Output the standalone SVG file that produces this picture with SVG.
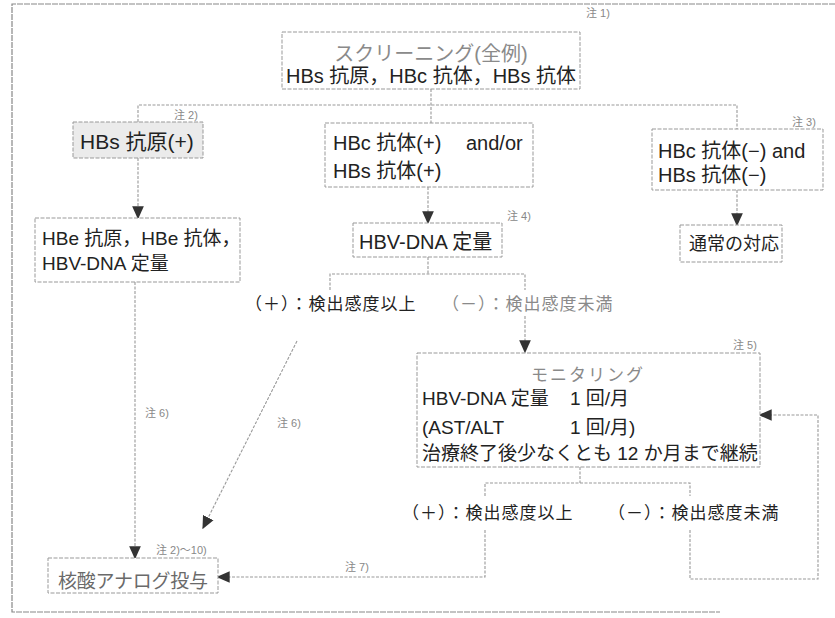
<svg xmlns="http://www.w3.org/2000/svg" width="835" height="618" viewBox="0 0 835 618">
<style>
text{font-family:'Liberation Sans','Noto Sans CJK JP',sans-serif;fill:#222}
.box{fill:#fff;stroke:#999;stroke-width:1;stroke-dasharray:4 1.5}
.shade{fill:#ebebeb}
.ln{fill:none;stroke:#999;stroke-width:1.1;stroke-dasharray:3 1.5}
.frame{fill:none;stroke:#888;stroke-width:1.2;stroke-dasharray:6 1}
.note{font-size:11px;fill:#888}
.faint{fill:#8a8a8a}
.mid{fill:#6a6a6a}
.t20{font-size:20px}
.t19{font-size:19px}
.t17{font-size:17px}
.lbl{font-size:17px;letter-spacing:1px}
</style>
<defs>
<marker id="ah" viewBox="0 0 10 10" refX="9" refY="5" markerWidth="13" markerHeight="13" markerUnits="userSpaceOnUse" orient="auto">
<path d="M0,0.5 L10,5 L0,9.5 Z" fill="#333"/>
</marker>
</defs>
<rect width="835" height="618" fill="#fff"/>
<g id="frame">
<path class="frame" d="M835,4 H12 V612 H720"/>
</g>
<g id="connectors">
<path class="ln" d="M431,89 V123"/>
<path class="ln" d="M138,122 V105 H737 V129"/>
<path class="ln" d="M138,158 V218" marker-end="url(#ah)"/>
<path class="ln" d="M428,187 V223" marker-end="url(#ah)"/>
<path class="ln" d="M737,190 V225" marker-end="url(#ah)"/>
<path class="ln" d="M330,290 V274 H525 V290"/>
<path class="ln" d="M428,257 V274"/>
<path class="ln" d="M525,316 V352" marker-end="url(#ah)"/>
<path class="ln" d="M297,341 L203,528" marker-end="url(#ah)"/>
<path class="ln" d="M135,282 V558" marker-end="url(#ah)"/>
<path class="ln" d="M485,496 V483 H690 V496"/>
<path class="ln" d="M580,467 V483"/>
<path class="ln" d="M485,530 V577 H218" marker-end="url(#ah)"/>
<path class="ln" d="M690,530 V579 H818 V415 H760" marker-end="url(#ah)"/>
</g>
<g id="screening">
<rect class="box" x="282" y="32" width="298" height="57"/>
<text class="t20 faint" x="431" y="61" text-anchor="middle">スクリーニング(全例)</text>
<text class="t20" x="431" y="83" text-anchor="middle">HBs 抗原，HBc 抗体，HBs 抗体</text>
<text class="note" x="586" y="17">注 1)</text>
</g>
<g id="hbsag-pos">
<rect class="box shade" x="73" y="122" width="130" height="36"/>
<text x="80" y="149" style="font-size:21px">HBs 抗原(+)</text>
<text class="note" x="174" y="119">注 2)</text>
</g>
<g id="hbe">
<rect class="box" x="35" y="218" width="205" height="64"/>
<text class="t19" x="42" y="245">HBe 抗原，HBe 抗体，</text>
<text class="t19" x="42" y="270">HBV-DNA 定量</text>
</g>
<g id="hbc-pos">
<rect class="box" x="325" y="123" width="208" height="64"/>
<text class="t20" x="333" y="150">HBc 抗体(+)<tspan x="466">and/or</tspan></text>
<text class="t20" x="333" y="178">HBs 抗体(+)</text>
</g>
<g id="hbvdna">
<rect class="box" x="353" y="223" width="149" height="34"/>
<text class="t20" x="359" y="249">HBV-DNA 定量</text>
<text class="note" x="507" y="220">注 4)</text>
</g>
<g id="hbc-neg">
<rect class="box" x="652" y="129" width="171" height="61"/>
<text class="t20" x="658" y="158">HBc 抗体(−) and</text>
<text class="t20" x="658" y="182">HBs 抗体(−)</text>
<text class="note" x="792" y="126">注 3)</text>
</g>
<g id="usual">
<rect class="box" x="680" y="225" width="102" height="37"/>
<text x="689" y="250" style="font-size:18px">通常の対応</text>
</g>
<g id="labels1">
<text class="lbl" x="245" y="310">（＋）：検出感度以上</text>
<text class="lbl faint" x="442" y="310">（－）：検出感度未満</text>
</g>
<g id="monitoring">
<rect class="box" x="417" y="353" width="343" height="114"/>
<text class="t17 faint" x="588" y="381" text-anchor="middle" letter-spacing="2">モニタリング</text>
<text class="t19" x="422" y="405">HBV-DNA 定量<tspan x="570">1 回/月</tspan></text>
<text class="t19" x="422" y="434">(AST/ALT<tspan x="570">1 回/月)</tspan></text>
<text class="t19" x="422" y="460">治療終了後少なくとも 12 か月まで継続</text>
<text class="note" x="733" y="349">注 5)</text>
</g>
<g id="labels2">
<text class="lbl" x="402" y="519">（＋）：検出感度以上</text>
<text class="lbl" x="608" y="519">（－）：検出感度未満</text>
<text class="note" x="145" y="417">注 6)</text>
<text class="note" x="277" y="427">注 6)</text>
<text class="note" x="345" y="571">注 7)</text>
</g>
<g id="analog">
<rect class="box" x="48" y="558" width="170" height="35"/>
<text class="t19 mid" x="58" y="588" textLength="150">核酸アナログ投与</text>
<text class="note" x="156" y="554">注 2)〜10)</text>
</g>
</svg>
